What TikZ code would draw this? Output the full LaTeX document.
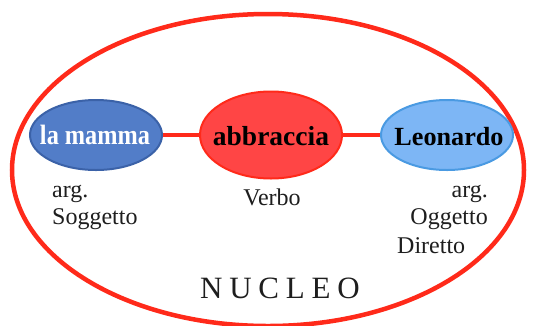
\documentclass[tikz,border=0pt]{standalone}
\usepackage{fontspec}
\usepackage{graphicx}
\setmainfont{Liberation Serif}
\usetikzlibrary{shapes.geometric}
\definecolor{nred}{HTML}{FF2A1A}
\definecolor{vfill}{HTML}{FF4545}
\definecolor{mfill}{HTML}{527DC8}
\definecolor{mline}{HTML}{3B62A8}
\definecolor{lfill}{HTML}{7DB6F5}
\definecolor{lline}{HTML}{4A9AE2}
\definecolor{txt}{HTML}{1E1E1E}
\tikzset{
  blob/.style={ellipse, inner sep=0pt, line width=2pt},
  lab/.style={anchor=base west, inner sep=0pt, text=txt, font=\fontsize{24}{26}\selectfont},
  link/.style={draw=nred, line width=4pt}
}
\begin{document}
\begin{tikzpicture}[x=1pt,y=-1pt]
\useasboundingbox (0,0) rectangle (543,325);
\fill[white] (0,0) rectangle (543,325);
\node[ellipse, draw=nred, line width=4.5pt, minimum width=512pt, minimum height=312pt, inner sep=0pt] (nucleo) at (268,170) {};
\node[blob, fill=mfill, draw=mline, minimum width=132pt, minimum height=70pt] (mamma) at (96,135) {};
\node[blob, fill=vfill, draw=nred, minimum width=142pt, minimum height=87pt] (verbo) at (271,135) {};
\node[blob, fill=lfill, draw=lline, minimum width=132pt, minimum height=70pt] (leo) at (447,135) {};
\draw[link] (mamma.east) -- (verbo.west);
\draw[link] (verbo.east) -- (leo.west);
\node[text=white, font=\bfseries\fontsize{24.3}{26}\selectfont, inner sep=0pt, anchor=base] (t1) at (95,144) {\scalebox{1}[1.15]{la mamma}};
\node[text=black, font=\bfseries\fontsize{27.5}{30}\selectfont, inner sep=0pt, anchor=base] (t2) at (271,145) {abbraccia};
\node[text=black, font=\bfseries\fontsize{26.2}{28}\selectfont, inner sep=0pt, anchor=base] (t3) at (449,145) {Leonardo};
\node[lab] (a1) at (52,197) {arg.};
\node[lab] (a2) at (52,224) {Soggetto};
\node[lab, anchor=base] (v) at (272,205) {Verbo};
\node[lab, anchor=base east] (b1) at (488,197) {arg.};
\node[lab, anchor=base east] (b2) at (488,224) {Oggetto};
\node[lab] (b3) at (397,253) {Diretto};
\node[anchor=base, inner sep=0pt, text=txt, font=\fontsize{31}{34}\selectfont\addfontfeature{LetterSpace=22}] (n) at (280,298) {NUCLEO};
\end{tikzpicture}
\end{document}
